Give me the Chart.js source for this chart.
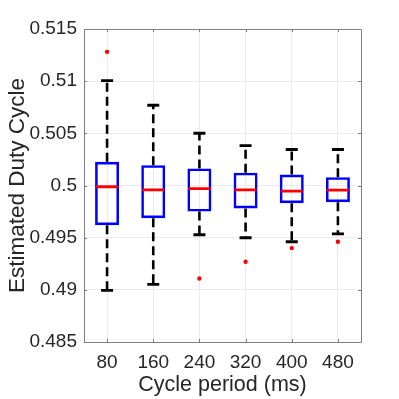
<!DOCTYPE html>
<html>
<head>
<meta charset="utf-8">
<script src="https://cdn.jsdelivr.net/npm/chart.js@4.4.1/dist/chart.umd.min.js"></script>
<style>
html,body{margin:0;padding:0;background:#fff;}
#wrap{width:399px;height:399px;}
</style>
</head>
<body>
<div id="wrap"><canvas id="c" width="399" height="399"></canvas></div>
<script>
const categories = ['80', '160', '240', '320', '400', '480'];
const q1Values = [0.49620, 0.49687, 0.49751, 0.49780, 0.49831, 0.49840];
const q3Values = [0.50227, 0.50195, 0.50163, 0.50122, 0.50105, 0.50080];
const medianValues = [0.49988, 0.49959, 0.49971, 0.49959, 0.49946, 0.49955];
const upperWhisker = [0.51006, 0.50769, 0.50501, 0.50383, 0.50345, 0.50345];
const lowerWhisker = [0.48994, 0.49052, 0.49528, 0.49499, 0.49461, 0.49537];
const outlierCats = ['80', '240', '320', '400', '480'];
const outlierValues = [0.51281, 0.49109, 0.49269, 0.49400, 0.49461];
const yTickValues = [0.485, 0.49, 0.495, 0.5, 0.505, 0.51, 0.515];
const yTickLabels = ['0.485', '0.49', '0.495', '0.5', '0.505', '0.51', '0.515'];

const boxData = categories.map((c, i) => [q1Values[i], q3Values[i]]);
const medianData = categories.map((c, i) => ({x: c, y: medianValues[i]}));
const capData = categories.flatMap((c, i) => [{x: c, y: upperWhisker[i]}, {x: c, y: lowerWhisker[i]}]);
const upperLineData = categories.flatMap((c, i) => [{x: c, y: q3Values[i]}, {x: c, y: upperWhisker[i]}, {x: c, y: null}]);
const lowerLineData = categories.flatMap((c, i) => [{x: c, y: q1Values[i]}, {x: c, y: lowerWhisker[i]}, {x: c, y: null}]);
const outlierData = outlierCats.map((c, i) => ({x: c, y: outlierValues[i]}));

const AXIS = '#808080';
const TEXT = '#262626';
const FONT = "'Liberation Sans', Arial, Helvetica, sans-serif";

const frame = {
  id: 'frame',
  afterDraw(chart) {
    const {ctx, chartArea: a, scales} = chart;
    ctx.save();
    ctx.strokeStyle = AXIS;
    ctx.lineWidth = 1;
    ctx.beginPath();
    ctx.rect(Math.round(a.left) + 0.5, Math.round(a.top) + 0.5, Math.round(a.right - a.left), Math.round(a.bottom - a.top));
    ctx.stroke();
    const tl = 3;
    ctx.beginPath();
    scales.y.ticks.forEach((t, i) => {
      const y = Math.round(scales.y.getPixelForTick(i)) + 0.5;
      ctx.moveTo(a.left, y); ctx.lineTo(a.left + tl, y);
      ctx.moveTo(a.right, y); ctx.lineTo(a.right - tl, y);
    });
    scales.x.ticks.forEach((t, i) => {
      const x = Math.round(scales.x.getPixelForTick(i)) + 0.5;
      ctx.moveTo(x, a.bottom); ctx.lineTo(x, a.bottom - tl);
      ctx.moveTo(x, a.top); ctx.lineTo(x, a.top + tl);
    });
    ctx.stroke();
    ctx.restore();
  }
};

new Chart(document.getElementById('c'), {
  type: 'bar',
  data: {
    labels: categories,
    datasets: [
      {
        type: 'bar',
        data: boxData,
        backgroundColor: 'rgba(0,0,0,0)',
        borderColor: '#0000ff',
        borderWidth: 2.6,
        borderSkipped: false,
        barPercentage: 0.52,
        categoryPercentage: 1,
        order: 2
      },
      {
        type: 'line',
        data: upperLineData,
        borderColor: '#000000',
        borderWidth: 2.6,
        borderDash: [9, 5],
        pointRadius: 0,
        spanGaps: false,
        fill: false,
        order: 3
      },
      {
        type: 'line',
        data: lowerLineData,
        borderColor: '#000000',
        borderWidth: 2.6,
        borderDash: [9, 5],
        pointRadius: 0,
        spanGaps: false,
        fill: false,
        order: 3
      },
      {
        type: 'line',
        data: capData,
        showLine: false,
        pointStyle: 'line',
        pointRadius: 6,
        pointBorderColor: '#000000',
        pointBorderWidth: 2.8,
        order: 1
      },
      {
        type: 'line',
        data: medianData,
        showLine: false,
        pointStyle: 'line',
        pointRadius: 11,
        pointBorderColor: '#ff0000',
        pointBorderWidth: 2.8,
        order: 0
      },
      {
        type: 'line',
        data: outlierData,
        showLine: false,
        pointStyle: 'circle',
        pointRadius: 2.2,
        pointBackgroundColor: '#ff0000',
        pointBorderColor: '#ff0000',
        pointBorderWidth: 0,
        order: 0
      }
    ]
  },
  options: {
    responsive: false,
    animation: false,
    events: [],
    layout: {padding: {left: 0, top: 29, right: 38, bottom: 0}},
    plugins: {legend: {display: false}, tooltip: {enabled: false}},
    scales: {
      x: {
        type: 'category',
        offset: true,
        grid: {offset: false, color: '#ebebeb', drawTicks: false},
        border: {display: false},
        ticks: {color: TEXT, font: {family: FONT, size: 19}, padding: 9, maxRotation: 0},
        title: {display: true, text: 'Cycle period (ms)', color: TEXT, font: {family: FONT, size: 21.5}, padding: {top: 0, bottom: 1}},
        afterFit(s) { s.height = 57; }
      },
      y: {
        min: 0.485,
        max: 0.515,
        afterBuildTicks(s) { s.ticks = yTickValues.map(v => ({value: v})); },
        grid: {color: '#ebebeb', drawTicks: false},
        border: {display: false},
        ticks: {
          color: TEXT,
          font: {family: FONT, size: 19},
          padding: 7,
          callback: (v) => { const i = yTickValues.findIndex(t => Math.abs(t - v) < 1e-9); return i >= 0 ? yTickLabels[i] : ''; }
        },
        title: {display: true, text: 'Estimated Duty Cycle', color: TEXT, font: {family: FONT, size: 22.5}, padding: {top: 4, bottom: 0}},
        afterFit(s) { s.width = 84; }
      }
    }
  },
  plugins: [frame]
});
</script>
</body>
</html>
